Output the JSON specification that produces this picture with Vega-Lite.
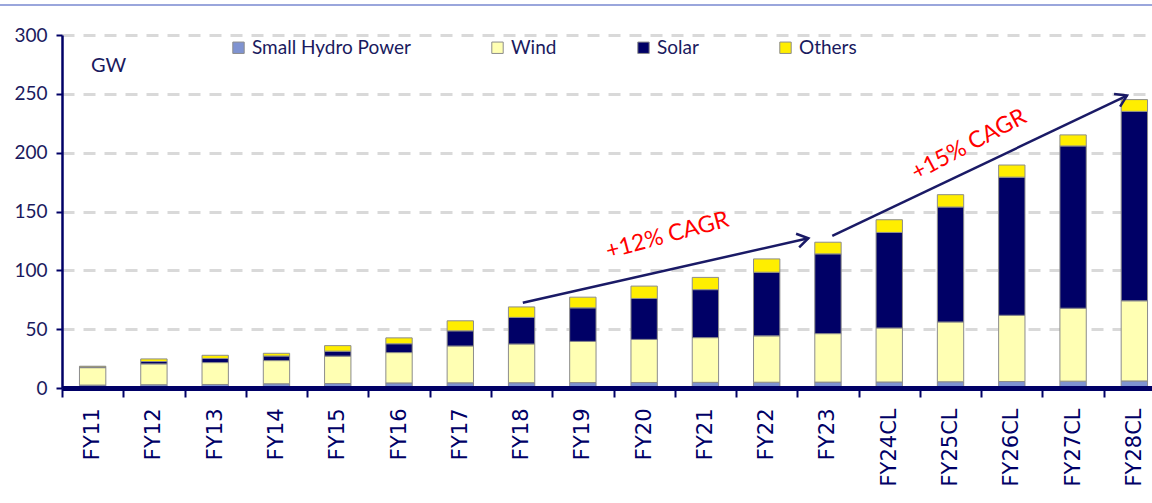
{
  "$schema": "https://vega.github.io/schema/vega-lite/v6.json",
  "width": 1090,
  "height": 353,
  "autosize": {"type": "none"},
  "padding": {"left": 62, "top": 35, "right": 0, "bottom": 115},
  "background": "white",
  "config": {"view": {"stroke": null}, "font": "Lato"},
  "datasets": {
    "cap": [
      {"fy": "FY11", "source": "Small Hydro Power", "rank": 1, "gw": 2.5},
      {"fy": "FY11", "source": "Wind", "rank": 2, "gw": 14.8},
      {"fy": "FY11", "source": "Solar", "rank": 3, "gw": 0.6},
      {"fy": "FY11", "source": "Others", "rank": 4, "gw": 0.6},
      {"fy": "FY12", "source": "Small Hydro Power", "rank": 1, "gw": 2.8},
      {"fy": "FY12", "source": "Wind", "rank": 2, "gw": 17.7},
      {"fy": "FY12", "source": "Solar", "rank": 3, "gw": 2.0},
      {"fy": "FY12", "source": "Others", "rank": 4, "gw": 2.2},
      {"fy": "FY13", "source": "Small Hydro Power", "rank": 1, "gw": 3.0},
      {"fy": "FY13", "source": "Wind", "rank": 2, "gw": 18.6},
      {"fy": "FY13", "source": "Solar", "rank": 3, "gw": 3.5},
      {"fy": "FY13", "source": "Others", "rank": 4, "gw": 2.7},
      {"fy": "FY14", "source": "Small Hydro Power", "rank": 1, "gw": 3.6},
      {"fy": "FY14", "source": "Wind", "rank": 2, "gw": 19.7},
      {"fy": "FY14", "source": "Solar", "rank": 3, "gw": 3.9},
      {"fy": "FY14", "source": "Others", "rank": 4, "gw": 2.3},
      {"fy": "FY15", "source": "Small Hydro Power", "rank": 1, "gw": 3.8},
      {"fy": "FY15", "source": "Wind", "rank": 2, "gw": 23.3},
      {"fy": "FY15", "source": "Solar", "rank": 3, "gw": 4.2},
      {"fy": "FY15", "source": "Others", "rank": 4, "gw": 4.7},
      {"fy": "FY16", "source": "Small Hydro Power", "rank": 1, "gw": 4.3},
      {"fy": "FY16", "source": "Wind", "rank": 2, "gw": 25.8},
      {"fy": "FY16", "source": "Solar", "rank": 3, "gw": 7.5},
      {"fy": "FY16", "source": "Others", "rank": 4, "gw": 5.0},
      {"fy": "FY17", "source": "Small Hydro Power", "rank": 1, "gw": 4.4},
      {"fy": "FY17", "source": "Wind", "rank": 2, "gw": 31.3},
      {"fy": "FY17", "source": "Solar", "rank": 3, "gw": 12.9},
      {"fy": "FY17", "source": "Others", "rank": 4, "gw": 8.5},
      {"fy": "FY18", "source": "Small Hydro Power", "rank": 1, "gw": 4.5},
      {"fy": "FY18", "source": "Wind", "rank": 2, "gw": 32.9},
      {"fy": "FY18", "source": "Solar", "rank": 3, "gw": 22.6},
      {"fy": "FY18", "source": "Others", "rank": 4, "gw": 8.9},
      {"fy": "FY19", "source": "Small Hydro Power", "rank": 1, "gw": 4.6},
      {"fy": "FY19", "source": "Wind", "rank": 2, "gw": 35.0},
      {"fy": "FY19", "source": "Solar", "rank": 3, "gw": 28.5},
      {"fy": "FY19", "source": "Others", "rank": 4, "gw": 9.1},
      {"fy": "FY20", "source": "Small Hydro Power", "rank": 1, "gw": 4.7},
      {"fy": "FY20", "source": "Wind", "rank": 2, "gw": 36.6},
      {"fy": "FY20", "source": "Solar", "rank": 3, "gw": 34.8},
      {"fy": "FY20", "source": "Others", "rank": 4, "gw": 10.5},
      {"fy": "FY21", "source": "Small Hydro Power", "rank": 1, "gw": 4.8},
      {"fy": "FY21", "source": "Wind", "rank": 2, "gw": 38.0},
      {"fy": "FY21", "source": "Solar", "rank": 3, "gw": 40.8},
      {"fy": "FY21", "source": "Others", "rank": 4, "gw": 10.4},
      {"fy": "FY22", "source": "Small Hydro Power", "rank": 1, "gw": 4.9},
      {"fy": "FY22", "source": "Wind", "rank": 2, "gw": 39.4},
      {"fy": "FY22", "source": "Solar", "rank": 3, "gw": 54.1},
      {"fy": "FY22", "source": "Others", "rank": 4, "gw": 11.3},
      {"fy": "FY23", "source": "Small Hydro Power", "rank": 1, "gw": 5.0},
      {"fy": "FY23", "source": "Wind", "rank": 2, "gw": 41.2},
      {"fy": "FY23", "source": "Solar", "rank": 3, "gw": 67.8},
      {"fy": "FY23", "source": "Others", "rank": 4, "gw": 9.9},
      {"fy": "FY24CL", "source": "Small Hydro Power", "rank": 1, "gw": 5.1},
      {"fy": "FY24CL", "source": "Wind", "rank": 2, "gw": 45.9},
      {"fy": "FY24CL", "source": "Solar", "rank": 3, "gw": 81.2},
      {"fy": "FY24CL", "source": "Others", "rank": 4, "gw": 10.8},
      {"fy": "FY25CL", "source": "Small Hydro Power", "rank": 1, "gw": 5.3},
      {"fy": "FY25CL", "source": "Wind", "rank": 2, "gw": 50.8},
      {"fy": "FY25CL", "source": "Solar", "rank": 3, "gw": 97.7},
      {"fy": "FY25CL", "source": "Others", "rank": 4, "gw": 10.5},
      {"fy": "FY26CL", "source": "Small Hydro Power", "rank": 1, "gw": 5.5},
      {"fy": "FY26CL", "source": "Wind", "rank": 2, "gw": 56.3},
      {"fy": "FY26CL", "source": "Solar", "rank": 3, "gw": 117.4},
      {"fy": "FY26CL", "source": "Others", "rank": 4, "gw": 10.3},
      {"fy": "FY27CL", "source": "Small Hydro Power", "rank": 1, "gw": 5.8},
      {"fy": "FY27CL", "source": "Wind", "rank": 2, "gw": 62.0},
      {"fy": "FY27CL", "source": "Solar", "rank": 3, "gw": 137.9},
      {"fy": "FY27CL", "source": "Others", "rank": 4, "gw": 9.4},
      {"fy": "FY28CL", "source": "Small Hydro Power", "rank": 1, "gw": 6.0},
      {"fy": "FY28CL", "source": "Wind", "rank": 2, "gw": 68.1},
      {"fy": "FY28CL", "source": "Solar", "rank": 3, "gw": 161.0},
      {"fy": "FY28CL", "source": "Others", "rank": 4, "gw": 10.0}
    ],
    "arrows": [
      {"x": 7.52, "y": 72.4, "x2": 12.18, "y2": 127.3, "angle": 347.3},
      {"x": 12.57, "y": 129.2, "x2": 17.38, "y2": 248.5, "angle": 334.6}
    ],
    "notes": [
      {"label": "+12% CAGR", "x": 9.88, "y": 129.5, "angle": 345},
      {"label": "+15% CAGR", "x": 14.8, "y": 206.7, "angle": 332}
    ],
    "border": [
      {"x": -1.012, "x2": 17.79, "y": 325.4}
    ]
  },
  "layer": [
    {
      "data": {"name": "cap"},
      "mark": {"type": "bar", "width": {"band": 0.43}, "stroke": "#8c8c8c", "strokeWidth": 1},
      "encoding": {
        "x": {
          "field": "fy", "type": "nominal", "sort": null,
          "scale": {"range": [0, 1103], "paddingInner": 0, "paddingOuter": 0},
          "axis": {
            "title": null, "labelAngle": -90, "labelFont": "DejaVu Sans", "labelFontSize": 21,
            "labelColor": "#000066", "labelPadding": 11, "domainColor": "#000066", "domainWidth": 5,
            "tickColor": "#000066", "tickWidth": 2, "tickSize": 9, "tickBand": "extent", "grid": false, "zindex": 1
          }
        },
        "y": {
          "field": "gw", "type": "quantitative", "stack": "zero", "title": "GW",
          "scale": {"domain": [0, 300], "nice": false},
          "axis": {
            "values": [0, 50, 100, 150, 200, 250, 300], "grid": true, "gridColor": "#d9d9d9", "gridWidth": 3,
            "gridDash": [12, 9], "domainColor": "#000066", "domainWidth": 2.5, "tickColor": "#000066",
            "tickWidth": 2, "tickSize": 6, "labelFont": "Lato", "labelFontSize": 19,
            "labelColor": "#1a1a5e", "labelPadding": 9, "titleAngle": 0, "titleX": 46, "titleY": 36,
            "titleAlign": "center", "titleBaseline": "alphabetic", "titleFont": "Lato",
            "titleFontSize": 20, "titleFontWeight": "normal", "titleColor": "#1a1a5e"
          }
        },
        "color": {
          "field": "source", "type": "nominal",
          "sort": ["Small Hydro Power", "Wind", "Solar", "Others"],
          "scale": {"domain": ["Small Hydro Power", "Wind", "Solar", "Others"], "range": ["#7f93d1", "#ffffb3", "#000066", "#ffee00"]},
          "legend": {
            "orient": "none", "legendX": 167, "legendY": 3, "direction": "horizontal", "title": null,
            "symbolType": "square", "symbolSize": 130, "symbolStrokeColor": "#8c8c8c", "symbolStrokeWidth": 1,
            "labelFont": "Lato", "labelFontSize": 19, "labelColor": "#1a1a5e", "labelLimit": 400,
            "labelOffset": 4, "columnPadding": 77, "symbolOpacity": 1
          }
        },
        "order": {"field": "rank", "type": "quantitative", "sort": "ascending"}
      }
    },
    {
      "data": {"name": "arrows"},
      "mark": {"type": "rule", "color": "#1a1a66", "strokeWidth": 2.5},
      "encoding": {
        "x": {"field": "x", "type": "quantitative", "scale": {"domain": [0, 18], "range": [0, 1103], "nice": false, "zero": false}, "axis": null},
        "x2": {"field": "x2"},
        "y": {"field": "y", "type": "quantitative", "title": "GW", "scale": {"domain": [0, 300], "nice": false}},
        "y2": {"field": "y2"}
      }
    },
    {
      "data": {"name": "arrows"},
      "mark": {"type": "point", "shape": "M -1.1 -0.7 L 0 0 L -1.1 0.7", "filled": false, "stroke": "#1a1a66", "strokeWidth": 2.5, "size": 400, "opacity": 1},
      "encoding": {
        "x": {"field": "x2", "type": "quantitative", "scale": {"domain": [0, 18], "range": [0, 1103], "nice": false, "zero": false}, "axis": null},
        "y": {"field": "y2", "type": "quantitative", "title": "GW", "scale": {"domain": [0, 300], "nice": false}},
        "angle": {"field": "angle", "type": "quantitative", "scale": null}
      }
    },
    {
      "data": {"name": "notes"},
      "mark": {"type": "text", "font": "Lato", "fontSize": 23, "color": "#ff0000", "align": "center", "baseline": "middle"},
      "encoding": {
        "x": {"field": "x", "type": "quantitative", "scale": {"domain": [0, 18], "range": [0, 1103], "nice": false, "zero": false}, "axis": null},
        "y": {"field": "y", "type": "quantitative", "title": "GW", "scale": {"domain": [0, 300], "nice": false}},
        "text": {"field": "label"},
        "angle": {"field": "angle", "type": "quantitative", "scale": null}
      }
    },
    {
      "data": {"name": "border"},
      "mark": {"type": "rule", "color": "#9aa6dc", "strokeWidth": 2},
      "encoding": {
        "x": {"field": "x", "type": "quantitative", "scale": {"domain": [0, 18], "range": [0, 1103], "nice": false, "zero": false}, "axis": null},
        "x2": {"field": "x2"},
        "y": {"field": "y", "type": "quantitative", "title": "GW", "scale": {"domain": [0, 300], "nice": false}}
      }
    }
  ],
  "resolve": {"scale": {"x": "independent"}}
}
